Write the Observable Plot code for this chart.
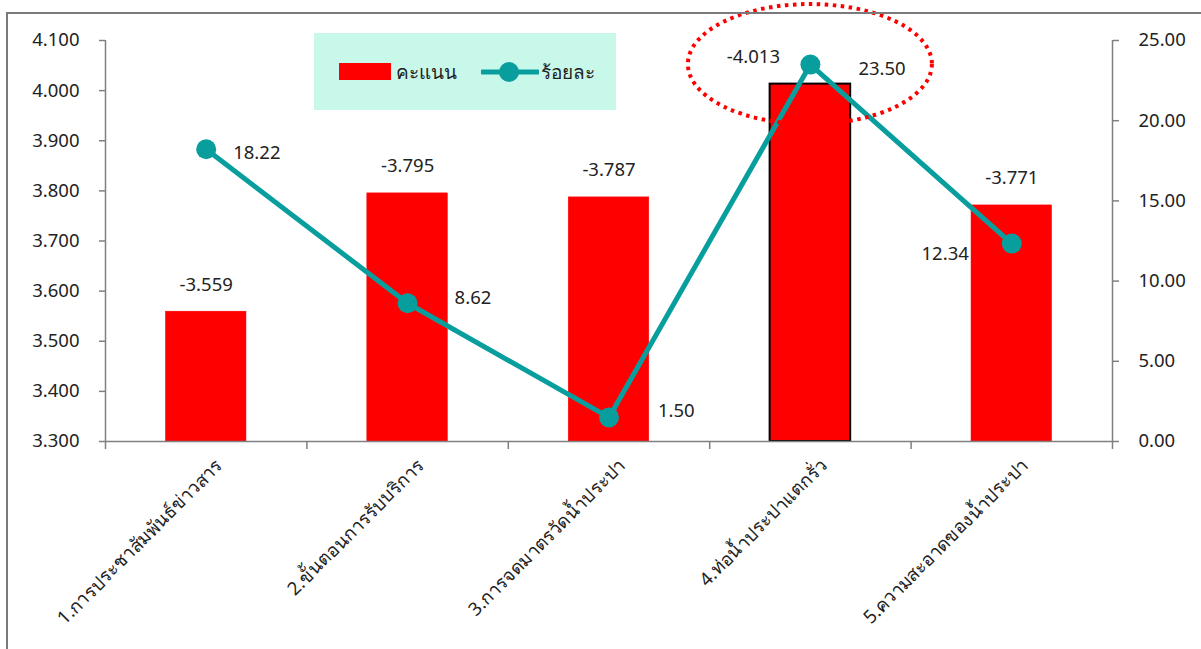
<!DOCTYPE html>
<html>
<head>
<meta charset="utf-8">
<script src="https://cdn.jsdelivr.net/npm/d3@7"></script>
<script src="https://cdn.jsdelivr.net/npm/@observablehq/plot@0.6"></script>
<style>
  html, body { margin: 0; padding: 0; background: #ffffff; }
  #wrap { position: relative; width: 1201px; height: 649px; overflow: hidden;
          font-family: "Noto Sans", "Open Sans", sans-serif; color: #222; }
  #frame { position: absolute; left: 6px; top: 12px; right: -10px; bottom: -10px;
           border-left: 2px solid #7a7a7a; border-top: 2px solid #7a7a7a; pointer-events: none; }
  #legend { position: absolute; left: 314px; top: 33px; width: 302px; height: 77px;
            background: #c8f8ea; font-size: 19px; }
  #legend .item { position: absolute; top: 0; height: 77px; display: flex; align-items: center; }
  #chart { position: absolute; left: 0; top: 0; }
</style>
</head>
<body>
<div id="wrap">
  <div id="chart"></div>
  <div id="frame"></div>
  <div id="legend"></div>
</div>
<script>
// Satisfaction scores (bars, left axis) and share of complaints in percent (line, right axis)
const categories = [
  "1.การประชาสัมพันธ์ข่าวสาร",
  "2.ขั้นตอนการรับบริการ",
  "3.การจดมาตรวัดน้ำประปา",
  "4.ท่อน้ำประปาแตกรั่ว",
  "5.ความสะอาดของน้ำประปา"
];
const scores = [3.559, 3.795, 3.787, 4.013, 3.771];
const percents = [18.22, 8.62, 1.50, 23.50, 12.34];
const scoreTicks = [3.3, 3.4, 3.5, 3.6, 3.7, 3.8, 3.9, 4.0, 4.1];
const percentTicks = [0, 5, 10, 15, 20, 25];
const seriesNames = ["คะแนน", "ร้อยละ"];
const highlighted = 3; // index of the circled category

const barColor = "#ff0000";
const lineColor = "#089e9e";
const axisColor = "#808080";
const font = '"Noto Sans", "Open Sans", sans-serif';

// Right axis (percent) mapped onto the left axis (score) range
const pctToScore = d3.scaleLinear()
  .domain([percentTicks[0], percentTicks[percentTicks.length - 1]])
  .range([scoreTicks[0], scoreTicks[scoreTicks.length - 1]]);

const rows = categories.map((cat, i) => ({
  cat, i, score: scores[i], pct: percents[i], pctY: pctToScore(percents[i])
}));

const fmt3 = d3.format(".3f");
const fmt2 = d3.format(".2f");
const mid = d => d.i + 0.5;

// label offsets [dx, dy] in pixels
const scoreLabelShift = [[0, -27], [0, -27], [0, -27], [-57, -27], [0, -27]];
const pctLabelShift = [
  {dx: 27, dy: 4, anchor: "start"},
  {dx: 47, dy: -5, anchor: "start"},
  {dx: 49, dy: -6, anchor: "start"},
  {dx: 48, dy: 5, anchor: "start"},
  {dx: -43, dy: 11, anchor: "end"}
];

// dotted ellipse around the highlighted category
function highlightEllipse(index, scales) {
  const d = rows[highlighted];
  const el = document.createElementNS("http://www.w3.org/2000/svg", "ellipse");
  el.setAttribute("cx", scales.x(mid(d)));
  el.setAttribute("cy", scales.y(d.pctY));
  el.setAttribute("rx", 122);
  el.setAttribute("ry", 60);
  el.setAttribute("fill", "none");
  el.setAttribute("stroke", barColor);
  el.setAttribute("stroke-width", 4);
  el.setAttribute("stroke-dasharray", "3.5 4.5");
  return el;
}

const chart = Plot.plot({
  width: 1201,
  height: 649,
  marginLeft: 105,
  marginRight: 89,
  marginTop: 40,
  marginBottom: 208,
  style: {fontFamily: font, fontSize: "18px", color: "#222", background: "transparent", overflow: "visible"},
  x: {type: "linear", domain: [0, categories.length], axis: null},
  y: {domain: [scoreTicks[0], scoreTicks[scoreTicks.length - 1]], axis: null},
  marks: [
    Plot.rectY(rows, {
      x1: d => d.i + 0.3, x2: d => d.i + 0.7, y1: scoreTicks[0], y2: "score",
      fill: barColor,
      stroke: d => d.i === highlighted ? "#000" : barColor,
      strokeWidth: d => d.i === highlighted ? 2 : 0.5
    }),
    // axis lines
    Plot.ruleY([scoreTicks[0]], {stroke: axisColor, strokeWidth: 1.5}),
    Plot.ruleX([0, categories.length], {y1: scoreTicks[0], y2: scoreTicks[scoreTicks.length - 1], stroke: axisColor, strokeWidth: 1.5}),
    // category boundary ticks
    Plot.axisX({ticks: d3.range(categories.length + 1), tickSize: 8, tickFormat: () => "", stroke: axisColor, strokeWidth: 1.5, strokeOpacity: 1}),
    // left score axis
    Plot.axisY({anchor: "left", ticks: scoreTicks, tickFormat: fmt3, tickSize: 6, tickPadding: 20,
      stroke: axisColor, strokeWidth: 1.5, strokeOpacity: 1, fill: "#222", fontSize: 18.5}),
    // right percent axis
    Plot.axisY({anchor: "right", ticks: percentTicks.map(pctToScore), tickFormat: v => fmt2(pctToScore.invert(v)),
      tickSize: 6, tickPadding: 20, stroke: axisColor, strokeWidth: 1.5, strokeOpacity: 1, fill: "#222", fontSize: 18.5}),
    // rotated category labels
    Plot.text(rows, {x: mid, frameAnchor: "bottom", text: "cat", rotate: -45, textAnchor: "end",
      lineAnchor: "top", dx: 8, dy: 16, fontSize: 18.5, fill: "#222"}),
    // percent line
    Plot.line(rows, {x: mid, y: "pctY", stroke: lineColor, strokeWidth: 5}),
    Plot.dot(rows, {x: mid, y: "pctY", r: 10, fill: lineColor}),
    // value labels
    ...rows.map(d => Plot.text([d], {x: mid, y: "score", text: r => "-" + fmt3(r.score),
      dx: scoreLabelShift[d.i][0], dy: scoreLabelShift[d.i][1], fontSize: 18.5, fill: "#222"})),
    ...rows.map(d => Plot.text([d], {x: mid, y: "pctY", text: r => fmt2(r.pct),
      dx: pctLabelShift[d.i].dx, dy: pctLabelShift[d.i].dy, textAnchor: pctLabelShift[d.i].anchor, fontSize: 18.5, fill: "#222"})),
    highlightEllipse
  ]
});
document.getElementById("chart").appendChild(chart);

// legend
const legend = document.getElementById("legend");
legend.innerHTML = `
  <div class="item" style="left:25px">
    <span style="display:inline-block;width:52px;height:17px;background:${barColor};margin-right:5px"></span>
    <span>${seriesNames[0]}</span>
  </div>
  <div class="item" style="left:167px">
    <svg width="58" height="22" style="margin-right:2px">
      <line x1="1" y1="11" x2="57" y2="11" stroke="${lineColor}" stroke-width="5" stroke-linecap="round"/>
      <circle cx="28" cy="11" r="10" fill="${lineColor}"/>
    </svg>
    <span>${seriesNames[1]}</span>
  </div>`;
</script>
</body>
</html>
